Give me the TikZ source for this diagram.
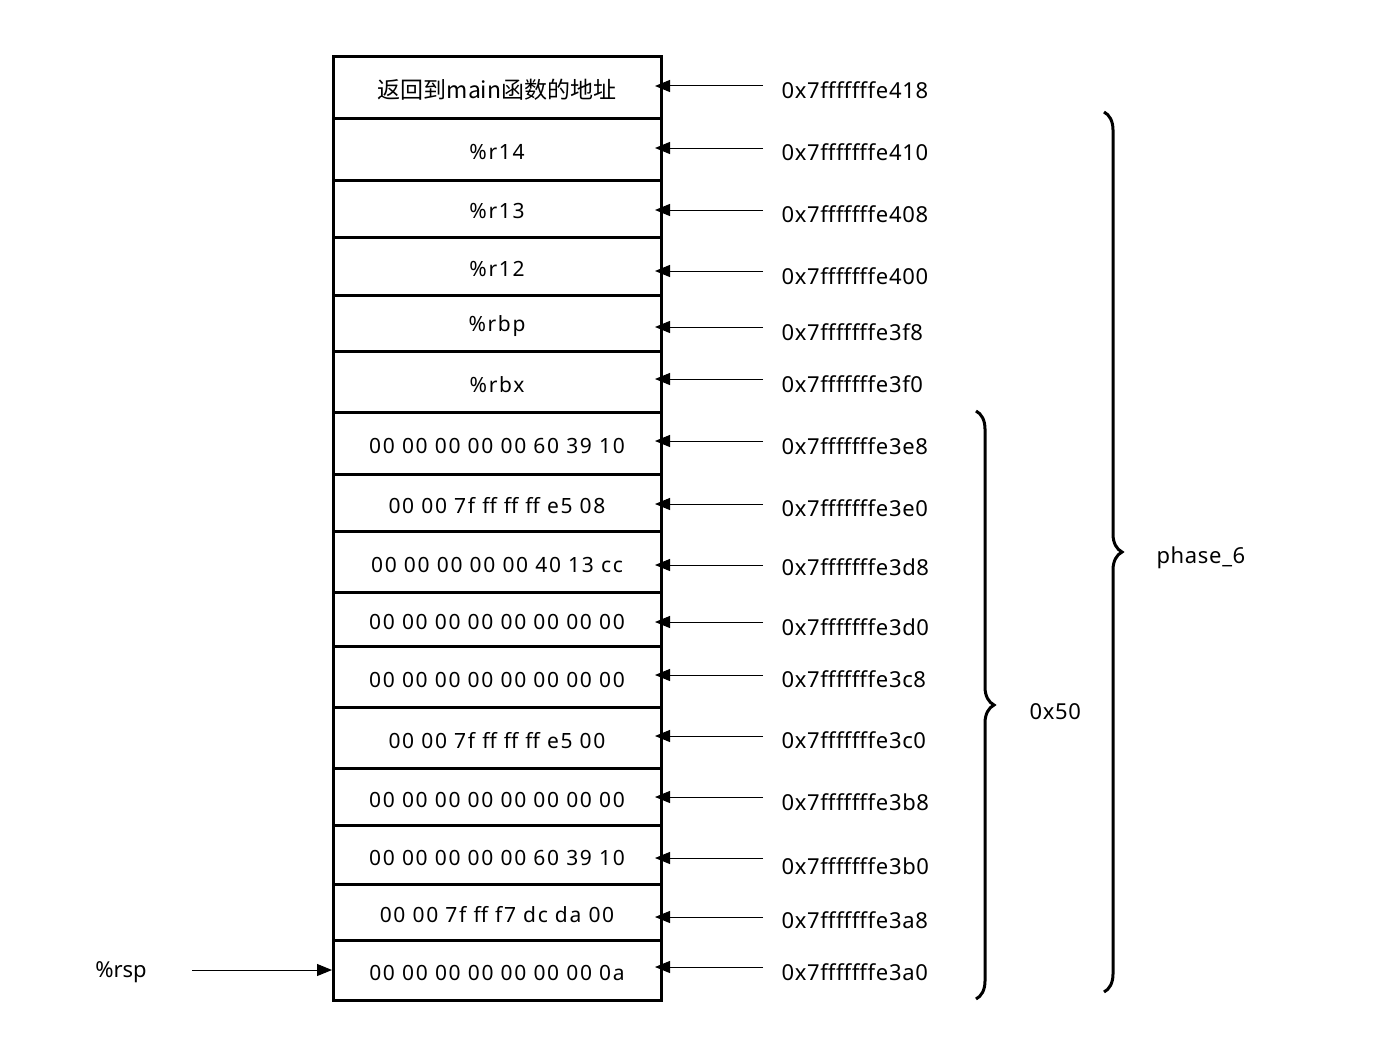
\documentclass[tikz,border=0pt]{standalone}
\usepackage{fontspec}
\setmainfont{Noto Sans}
\newfontfamily\cjkf{Noto Sans CJK SC}
\usetikzlibrary{arrows.meta,decorations.pathreplacing}
\begin{document}
\begin{tikzpicture}[x=1pt,y=-1pt,
  cell/.style={draw,line width=3pt,anchor=north west,minimum width=328pt,inner sep=0pt},
  ctext/.style={font=\fontsize{21}{25}\selectfont\addfontfeature{LetterSpace=8}},
  addr/.style={anchor=west,font=\fontsize{22}{26}\selectfont\addfontfeature{LetterSpace=3}},
  arr/.style={-{Triangle[length=15pt,width=12pt]},line width=1pt},
  br/.style={decorate,decoration={brace,amplitude=18pt},line width=3pt}]
\useasboundingbox (0,0) rectangle (1394,1054);
\def\rows{55/117/{\cjkf\fontsize{23}{26}\selectfont 返回到main函数的地址},117/179/\%r14,179/236/\%r13,236/294/\%r12,294/350/\%rbp,350/411/\%rbx,411/473/00 00 00 00 00 60 39 10,473/530/00 00 7f ff ff ff e5 08,530/591/00 00 00 00 00 40 13 cc,591/645/00 00 00 00 00 00 00 00,645/706/00 00 00 00 00 00 00 00,706/767/00 00 7f ff ff ff e5 00,767/824/00 00 00 00 00 00 00 00,824/883/00 00 00 00 00 60 39 10,883/939/00 00 7f ff f7 dc da 00,939/999/00 00 00 00 00 00 00 0a}
\foreach \a/\b/\t [count=\i] in \rows {
  \pgfmathsetmacro\h{\b-\a}
  \node[cell,minimum height=\h pt] (c\i) at (332,\a) {};
  \node[ctext] (t\i) at (497,{(\a+\b)/2+4}) {\t};
}
\foreach \ay/\ty/\t [count=\i] in {86/90/0x7fffffffe418,148/152/0x7fffffffe410,210/214/0x7fffffffe408,271/276/0x7fffffffe400,327/332/0x7fffffffe3f8,379/384/0x7fffffffe3f0,441/446/0x7fffffffe3e8,504/508/0x7fffffffe3e0,565/567/0x7fffffffe3d8,622/627/0x7fffffffe3d0,675/679/0x7fffffffe3c8,736/740/0x7fffffffe3c0,797/802/0x7fffffffe3b8,858/866/0x7fffffffe3b0,917/920/0x7fffffffe3a8,967/972/0x7fffffffe3a0} {
  \node[addr] (a\i) at (778,\ty) {\t};
  \coordinate (s\i) at (763,\ay);
  \coordinate (e\i) at (655,\ay);
  \draw[arr] (s\i) -- (e\i);
}
\node[font=\fontsize{22}{26}\selectfont] (rsp) at (121,972) {\%rsp};
\coordinate (rs) at (192,970);
\draw[arr] (rs) -- (c16.west |- rs);
\coordinate (b1) at (976,411); \coordinate (b2) at (976,999);
\draw[br] (b1) -- (b2);
\node[addr] (x50) at (1026,712) {0x50};
\coordinate (p1) at (1104,112); \coordinate (p2) at (1104,992);
\draw[br] (p1) -- (p2);
\node[addr] (ph) at (1153,558) {phase\_6};
\end{tikzpicture}
\end{document}
